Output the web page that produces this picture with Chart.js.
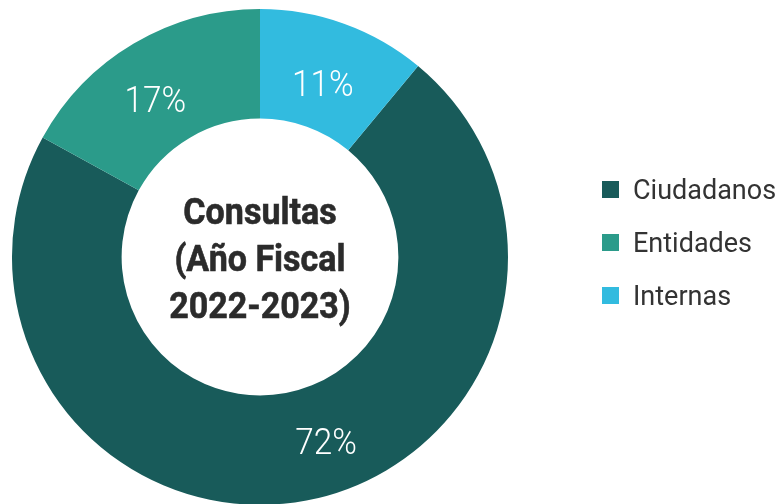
<!DOCTYPE html>
<html>
<head>
<meta charset="utf-8">
<script src="https://cdn.jsdelivr.net/npm/chart.js@4"></script>
<style>
  html, body { margin: 0; padding: 0; background: #ffffff; overflow: hidden; width: 781px; height: 504px; }
  #wrap { position: absolute; left: 0; top: 0; width: 781px; height: 510px; }
  #center { position: absolute; left: 160px; top: 188px; width: 200px; text-align: center;
            font-family: Roboto, sans-serif; font-weight: 700; font-size: 37px; line-height: 47px;
            color: #2b2b2b; transform: scaleX(0.92); transform-origin: 100px 0; -webkit-text-stroke: 0.6px #2b2b2b; }
  #legend { position: absolute; left: 602px; top: 163px; font-family: Roboto, sans-serif; font-size: 27px; color: #333333; }
  .item { height: 53px; display: flex; align-items: center; }
  .sw { width: 17px; height: 17px; margin-right: 14px; flex: none; }
</style>
</head>
<body>
<div id="wrap"><canvas id="c"></canvas></div>
<div id="center">Consultas<br>(Año Fiscal<br>2022-2023)</div>
<div id="legend"></div>
<script>
const categories = ["Ciudadanos", "Entidades", "Internas"];
const values = [72, 17, 11];
const colors = ["#185b5a", "#2b9b8a", "#32bbdf"];
const valueLabels = ["72%", "17%", "11%"];

const legend = document.getElementById('legend');
categories.forEach((name, i) => {
  const row = document.createElement('div');
  row.className = 'item';
  const sw = document.createElement('span');
  sw.className = 'sw';
  sw.style.background = colors[i];
  const tx = document.createElement('span');
  tx.textContent = name;
  row.appendChild(sw); row.appendChild(tx);
  legend.appendChild(row);
});

const total = values.reduce((a, b) => a + b, 0);
const lastShare = values[values.length - 1] / total;

const labelPlugin = {
  id: 'sliceLabels',
  afterDatasetsDraw(chart, args, opts) {
    const ctx = chart.ctx;
    const meta = chart.getDatasetMeta(0);
    ctx.save();
    ctx.fillStyle = '#ffffff';
    ctx.font = '300 37px Roboto, sans-serif';
    ctx.textAlign = 'center';
    ctx.textBaseline = 'middle';
    meta.data.forEach((arc, i) => {
      const mid = (arc.startAngle + arc.endAngle) / 2 + (opts.angleNudge[i] || 0) * Math.PI / 180;
      const r = arc.innerRadius + (arc.outerRadius - arc.innerRadius) * opts.radialFrac[i];
      const x = arc.x + Math.cos(mid) * r;
      const y = arc.y + Math.sin(mid) * r;
      ctx.save();
      ctx.translate(x, y);
      ctx.scale(0.9, 1);
      ctx.fillText(valueLabels[i], 0, 0);
      ctx.restore();
    });
    ctx.restore();
  }
};

new Chart(document.getElementById('c'), {
  type: 'doughnut',
  data: {
    labels: categories,
    datasets: [{ data: values, backgroundColor: colors, borderWidth: 0 }]
  },
  options: {
    responsive: true,
    maintainAspectRatio: false,
    animation: false,
    rotation: lastShare * 360,
    cutout: '55.8%',
    layout: { padding: { left: 12, top: 9, right: 273, bottom: 5 } },
    plugins: {
      legend: { display: false },
      tooltip: { enabled: false },
      sliceLabels: { angleNudge: [-8.6, -3.5, 0.5], radialFrac: [0.55, 0.44, 0.39] }
    }
  },
  plugins: [labelPlugin]
});
</script>
</body>
</html>
